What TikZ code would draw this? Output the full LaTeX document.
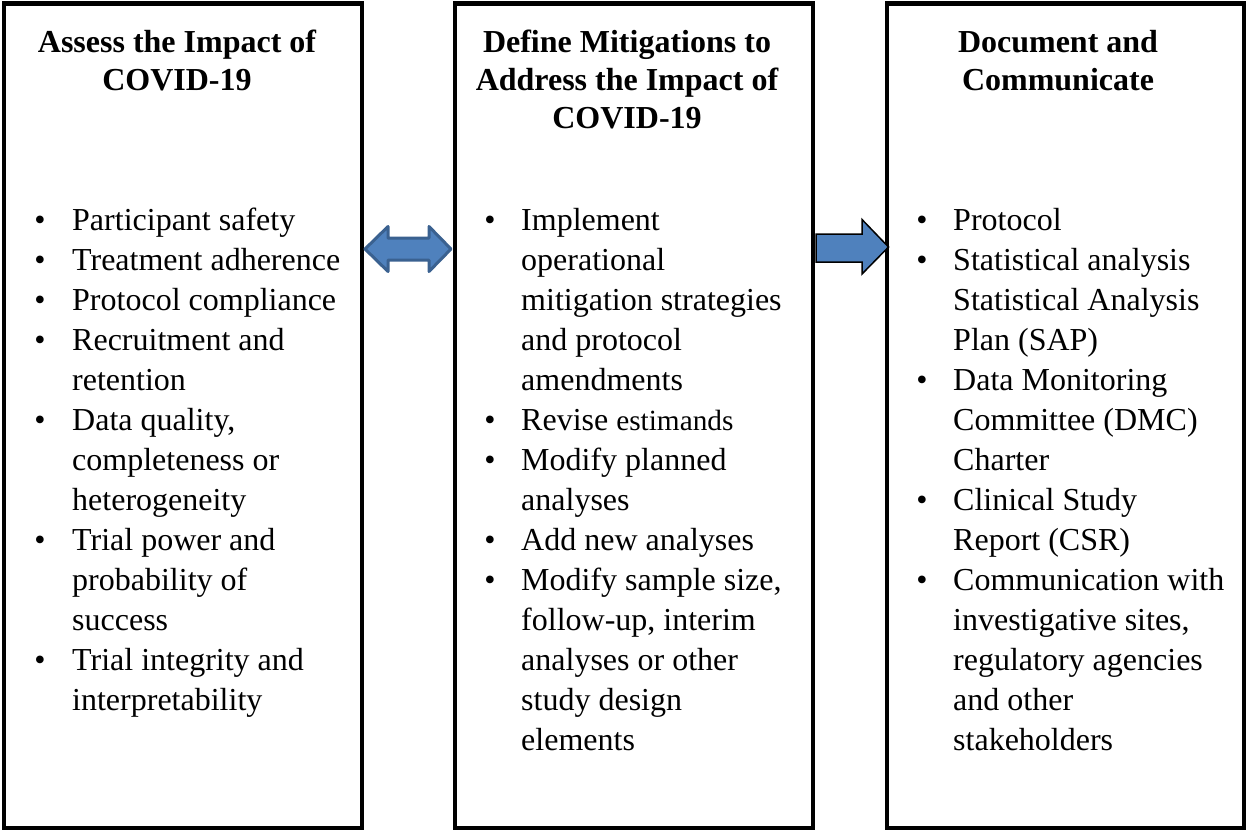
\documentclass[tikz,border=0pt]{standalone}
\usepackage{fontspec}
\setmainfont{Liberation Serif}
\definecolor{arrowfill}{HTML}{4F81BD}
\definecolor{arrowline}{HTML}{3A6190}
\tikzset{
  panel/.style={draw=black, line width=4.5pt},
  headtxt/.style={inner sep=0pt, anchor=base, font=\fontsize{32}{38}\selectfont\bfseries},
  bodytxt/.style={inner sep=0pt, anchor=base west, font=\fontsize{32}{40}\selectfont},
  bul/.style={inner sep=0pt, anchor=base, font=\fontsize{32}{40}\selectfont},
  dblarrow/.style={fill=arrowfill, draw=arrowline, line width=3pt, line join=round},
  sglarrow/.style={fill=arrowfill, draw=black, line width=1.5pt, line join=miter},
}
\newcommand\bline[4]{\node[bodytxt] (#1) at (#2,{230+40*#3}) {#4};}
\newcommand\bdot[3]{\node[bul] (#1) at (#2,{230+40*#3}) {•};}
\begin{document}
\begin{tikzpicture}[x=1pt,y=-1pt]
\useasboundingbox (0,0) rectangle (1246,831);
% panels
\draw[panel] (4,3.5) rectangle (362,828);
\draw[panel] (455,3.5) rectangle (813,828);
\draw[panel] (887,3.5) rectangle (1244,828);
% headings
\node[headtxt] (h1a) at (177,52) {Assess the Impact of};
\node[headtxt] (h1b) at (177,90) {COVID-19};
\node[headtxt] (h2a) at (627,52) {Define Mitigations to};
\node[headtxt] (h2b) at (627,90) {Address the Impact of};
\node[headtxt] (h2c) at (627,128) {COVID-19};
\node[headtxt] (h3a) at (1058,52) {Document and};
\node[headtxt] (h3b) at (1058,90) {Communicate};
% panel 1 body
\bdot{d1a}{40}{0} \bline{t1a}{72}{0}{Participant safety}
\bdot{d1b}{40}{1} \bline{t1b}{72}{1}{Treatment adherence}
\bdot{d1c}{40}{2} \bline{t1c}{72}{2}{Protocol compliance}
\bdot{d1d}{40}{3} \bline{t1d}{72}{3}{Recruitment and}
\bline{t1e}{72}{4}{retention}
\bdot{d1f}{40}{5} \bline{t1f}{72}{5}{Data quality,}
\bline{t1g}{72}{6}{completeness or}
\bline{t1h}{72}{7}{heterogeneity}
\bdot{d1i}{40}{8} \bline{t1i}{72}{8}{Trial power and}
\bline{t1j}{72}{9}{probability of}
\bline{t1k}{72}{10}{success}
\bdot{d1l}{40}{11} \bline{t1l}{72}{11}{Trial integrity and}
\bline{t1m}{72}{12}{interpretability}
% panel 2 body
\bdot{d2a}{490}{0} \bline{t2a}{521}{0}{Implement}
\bline{t2b}{521}{1}{operational}
\bline{t2c}{521}{2}{mitigation strategies}
\bline{t2d}{521}{3}{and protocol}
\bline{t2e}{521}{4}{amendments}
\bdot{d2f}{490}{5} \bline{t2f}{521}{5}{Revise {\fontsize{29.3}{40}\selectfont estimands}}
\bdot{d2g}{490}{6} \bline{t2g}{521}{6}{Modify planned}
\bline{t2h}{521}{7}{analyses}
\bdot{d2i}{490}{8} \bline{t2i}{521}{8}{Add new analyses}
\bdot{d2j}{490}{9} \bline{t2j}{521}{9}{Modify sample size,}
\bline{t2k}{521}{10}{follow-up, interim}
\bline{t2l}{521}{11}{analyses or other}
\bline{t2m}{521}{12}{study design}
\bline{t2n}{521}{13}{elements}
% panel 3 body
\bdot{d3a}{922}{0} \bline{t3a}{953}{0}{Protocol}
\bdot{d3b}{922}{1} \bline{t3b}{953}{1}{Statistical analysis}
\bline{t3c}{953}{2}{Statistical Analysis}
\bline{t3d}{953}{3}{Plan (SAP)}
\bdot{d3e}{922}{4} \bline{t3e}{953}{4}{Data Monitoring}
\bline{t3f}{953}{5}{Committee (DMC)}
\bline{t3g}{953}{6}{Charter}
\bdot{d3h}{922}{7} \bline{t3h}{953}{7}{Clinical Study}
\bline{t3i}{953}{8}{Report (CSR)}
\bdot{d3j}{922}{9} \bline{t3j}{953}{9}{Communication with}
\bline{t3k}{953}{10}{investigative sites,}
\bline{t3l}{953}{11}{regulatory agencies}
\bline{t3m}{953}{12}{and other}
\bline{t3n}{953}{13}{stakeholders}
% arrows
\draw[dblarrow] (365,249) -- (388,226.5) -- (388,238) -- (429,238) -- (429,226.5)
  -- (451,249) -- (429,271.5) -- (429,260) -- (388,260) -- (388,271.5) -- cycle;
\draw[sglarrow] (816,234) -- (862,234) -- (862,219.5) -- (888.5,247) -- (862,274)
  -- (862,262) -- (816,262) -- cycle;
\end{tikzpicture}
\end{document}
